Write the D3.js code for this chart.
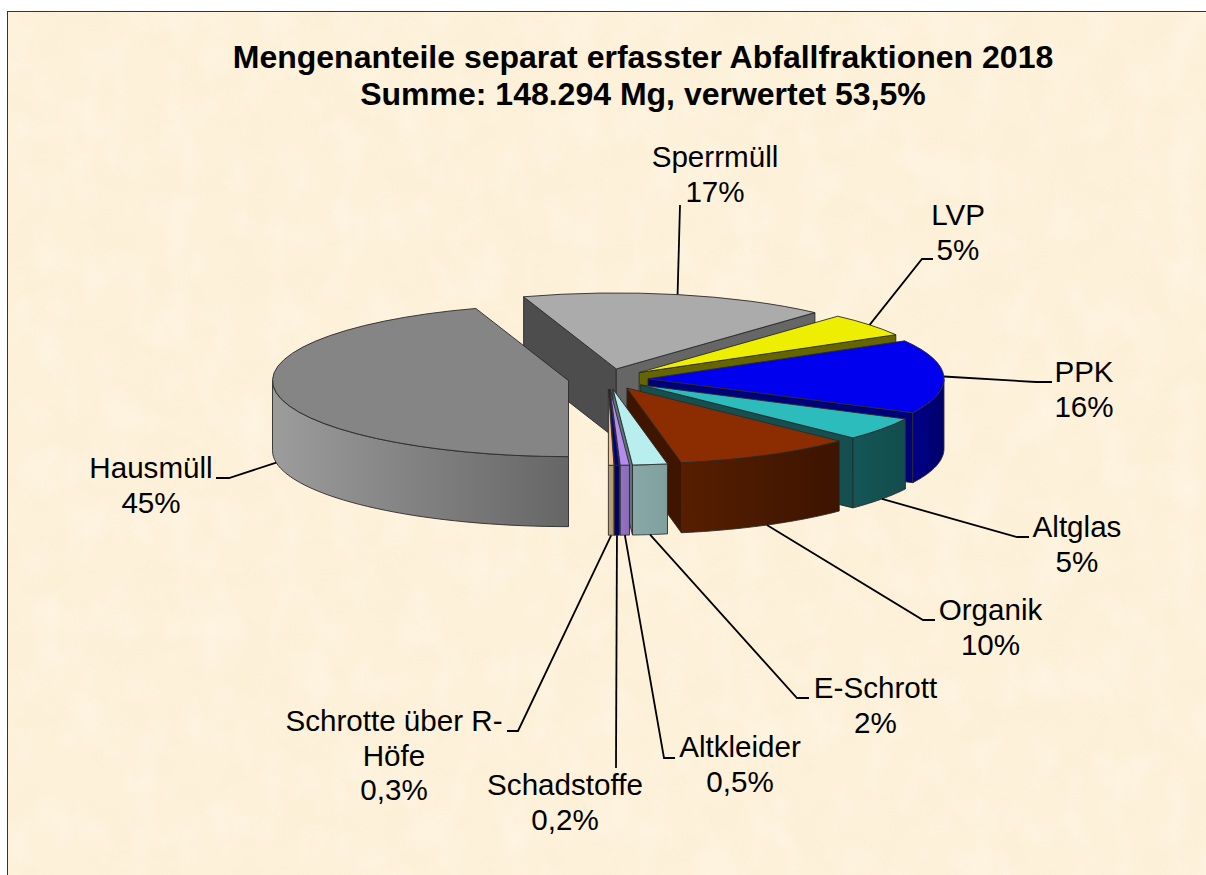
<!DOCTYPE html>
<html><head><meta charset="utf-8">
<script src="https://cdnjs.cloudflare.com/ajax/libs/d3/7.8.5/d3.min.js"></script>
<style>html,body{margin:0;padding:0;background:#fff;overflow:hidden}svg{display:block}text{font-family:"Liberation Sans",Arial,sans-serif;fill:#000}</style>
</head><body><svg id="c" width="1206" height="875"></svg>
<script>
const categories = ["Hausmüll","Sperrmüll","LVP","PPK","Altglas","Organik","E-Schrott","Altkleider","Schadstoffe","Schrotte über R-Höfe"];
const values = [45.0,16.8,5.0,15.7,4.9,9.8,1.9,0.5,0.25,0.3];
const percentLabels = ["45%","17%","5%","16%","5%","10%","2%","0,5%","0,2%","0,3%"];
const labelLines = [["Hausmüll"],["Sperrmüll"],["LVP"],["PPK"],["Altglas"],["Organik"],["E-Schrott"],["Altkleider"],["Schadstoffe"],["Schrotte über R-","Höfe"]];
const titleLines = ["Mengenanteile separat erfasster Abfallfraktionen 2018","Summe: 148.294 Mg, verwertet 53,5%"];
const topColors = ["#858585","#ababab","#eeee00","#0000ee","#2cbcbc","#8b2d00","#b8eeee","#b48cef","#000080","#f5c48e"];
const sideColors = ["#666666","#4d4d4d","#666600","#000078","#145050","#3f1500","#5c7777","#6f5a90","#000060","#a08860"];
const wallFrom = ["#9c9c9c","#666","#777700","#000088","#155656","#571e00","#88a8a8","#9472c4","#000070","#bda078"];
const wallTo = ["#666666","#444","#555500","#00006a","#134c4c","#3c1400","#80a0a0","#8a6ab6","#000060","#b09470"];

const W=1206,H=875, cx=608, cy=379, R=296, ky=76/296, depth=70, explode=40;
const labelPos = [[151,478],[715,167],[958,225],[1084,382],[1077,537],[990.5,620],[875.5,698],[740,757],[565,795],[394,731]];
const elbows = [[[229,478],[216,478]],null,[[922,259],[933,259]],[[1036,382],[1052,382]],[[1017,537],[1029,537]],[[923,620],[935,620]],[[797,698],[809,698]],[[664,758],[675,758]],[[616,768]],[[518,731],[507,731]]];
const sperrEnd=[680,205];

const svg=d3.select("#c");
const defs=svg.append("defs");
const f=defs.append("filter").attr("id","paper").attr("x",0).attr("y",0).attr("width","100%").attr("height","100%");
f.append("feTurbulence").attr("type","fractalNoise").attr("baseFrequency","0.022 0.03").attr("numOctaves",3).attr("seed",7);
f.append("feColorMatrix").attr("values","0 0 0 0 0.93  0 0 0 0 0.8  0 0 0 0 0.55  1.6 0 0 0 -0.72");
const f2=defs.append("filter").attr("id","paper2").attr("x",0).attr("y",0).attr("width","100%").attr("height","100%");
f2.append("feTurbulence").attr("type","fractalNoise").attr("baseFrequency","0.03 0.02").attr("numOctaves",3).attr("seed",23);
f2.append("feColorMatrix").attr("values","0 0 0 0 1  0 0 0 0 0.98  0 0 0 0 0.92  1.8 0 0 0 -0.85");

svg.append("rect").attr("x",7.5).attr("y",11.5).attr("width",W).attr("height",H).attr("fill","#fdf1da");
svg.append("rect").attr("x",8).attr("y",12).attr("width",W-8).attr("height",H-12).attr("filter","url(#paper)").attr("opacity",.22);
svg.append("rect").attr("x",8).attr("y",12).attr("width",W-8).attr("height",H-12).attr("filter","url(#paper2)").attr("opacity",.35);
svg.append("rect").attr("x",7.5).attr("y",11.5).attr("width",W).attr("height",H).attr("fill","none").attr("stroke","#333").attr("stroke-width",1);

const arcs=d3.pie().sort(null).startAngle(Math.PI).endAngle(3*Math.PI)(values);
const sx=d3.scaleLinear().domain([-1,1]).range([-R,R]);
const sy=d3.scaleLinear().domain([-1,1]).range([-R*ky,R*ky]);
const ptOn=(a,r=1)=>[sx(Math.sin(a)*r),sy(-Math.cos(a)*r)];
const arcGen=d3.arc().innerRadius(0).outerRadius(R);
const line=d3.line();
const area=d3.area().x(d=>d[0]).y0(d=>d[1]).y1(d=>d[1]+depth);
const EDGE="#2a2a2a";
const TAU=2*Math.PI;

const slices=arcs.map((a,i)=>{
  const mid=(a.startAngle+a.endAngle)/2;
  const ox=cx+explode*Math.sin(mid), oy=cy-explode*Math.cos(mid)*ky;
  return {a,i,mid,ox,oy};
});
const pieG=svg.append("g");
const ordered=slices.slice().sort((p,q)=>Math.cos(q.mid)-Math.cos(p.mid));
function radial(g,ang,color){
  const p=ptOn(ang);
  g.append("path").attr("d",line([[0,0],p,[p[0],p[1]+depth],[0,depth]])+"Z")
   .attr("fill",color).attr("stroke",EDGE).attr("stroke-width",.9).attr("stroke-linejoin","round");
}
ordered.forEach(s=>{
  const g=pieG.append("g").attr("transform",`translate(${s.ox},${s.oy})`);
  const {startAngle:a0,endAngle:a1}=s.a;
  if(Math.sin(a0)<-1e-6) radial(g,a0,sideColors[s.i]);
  if(Math.sin(a1)>1e-6) radial(g,a1,s.i===1?"#666666":sideColors[s.i]);
  // outer front wall: the part of the rim between 90 and 270 degrees
  const turn=a0>=TAU?TAU:0;
  const lo=Math.max(a0,turn+Math.PI/2), hi=Math.min(a1,turn+1.5*Math.PI);
  if(hi>lo){
    const id="wall"+s.i;
    const lg=defs.append("linearGradient").attr("id",id);
    lg.append("stop").attr("offset",0).attr("stop-color",wallFrom[s.i]);
    lg.append("stop").attr("offset",1).attr("stop-color",wallTo[s.i]);
    const pts=d3.range(0,41).map(k=>ptOn(lo+(hi-lo)*k/40));
    g.append("path").attr("d",area(pts)).attr("fill",`url(#${id})`).attr("stroke",EDGE).attr("stroke-width",.9).attr("stroke-linejoin","round");
  }
  g.append("path").attr("d",arcGen(s.a)).attr("transform",`scale(1,${ky})`)
   .attr("fill",topColors[s.i]).attr("stroke",EDGE).attr("stroke-width",.9).attr("vector-effect","non-scaling-stroke").attr("stroke-linejoin","round");
});

const leaderG=svg.append("g");
slices.forEach(s=>{
  const p=ptOn(s.mid);
  const onTop=Math.cos(s.mid)>-0.05;
  const start=[s.ox+p[0], s.oy+p[1]+(onTop?0:depth)];
  const rest=s.i===1?[sperrEnd]:elbows[s.i];
  leaderG.append("path").attr("d",line([start,...rest])).attr("fill","none").attr("stroke","#000").attr("stroke-width",1.8);
});

const FS=29.6, LH=34.5;
slices.forEach(s=>{
  const lines=[...labelLines[s.i],percentLabels[s.i]];
  const [x,y]=labelPos[s.i];
  const t=svg.append("text").attr("text-anchor","middle").attr("font-size",FS);
  lines.forEach((l,k)=>t.append("tspan").attr("x",x).attr("y",y+k*LH).text(l));
});
titleLines.forEach((l,k)=>svg.append("text").attr("x",643).attr("y",68+k*36.5).attr("text-anchor","middle")
  .attr("font-size",32).attr("font-weight","bold").text(l));
</script></body></html>
